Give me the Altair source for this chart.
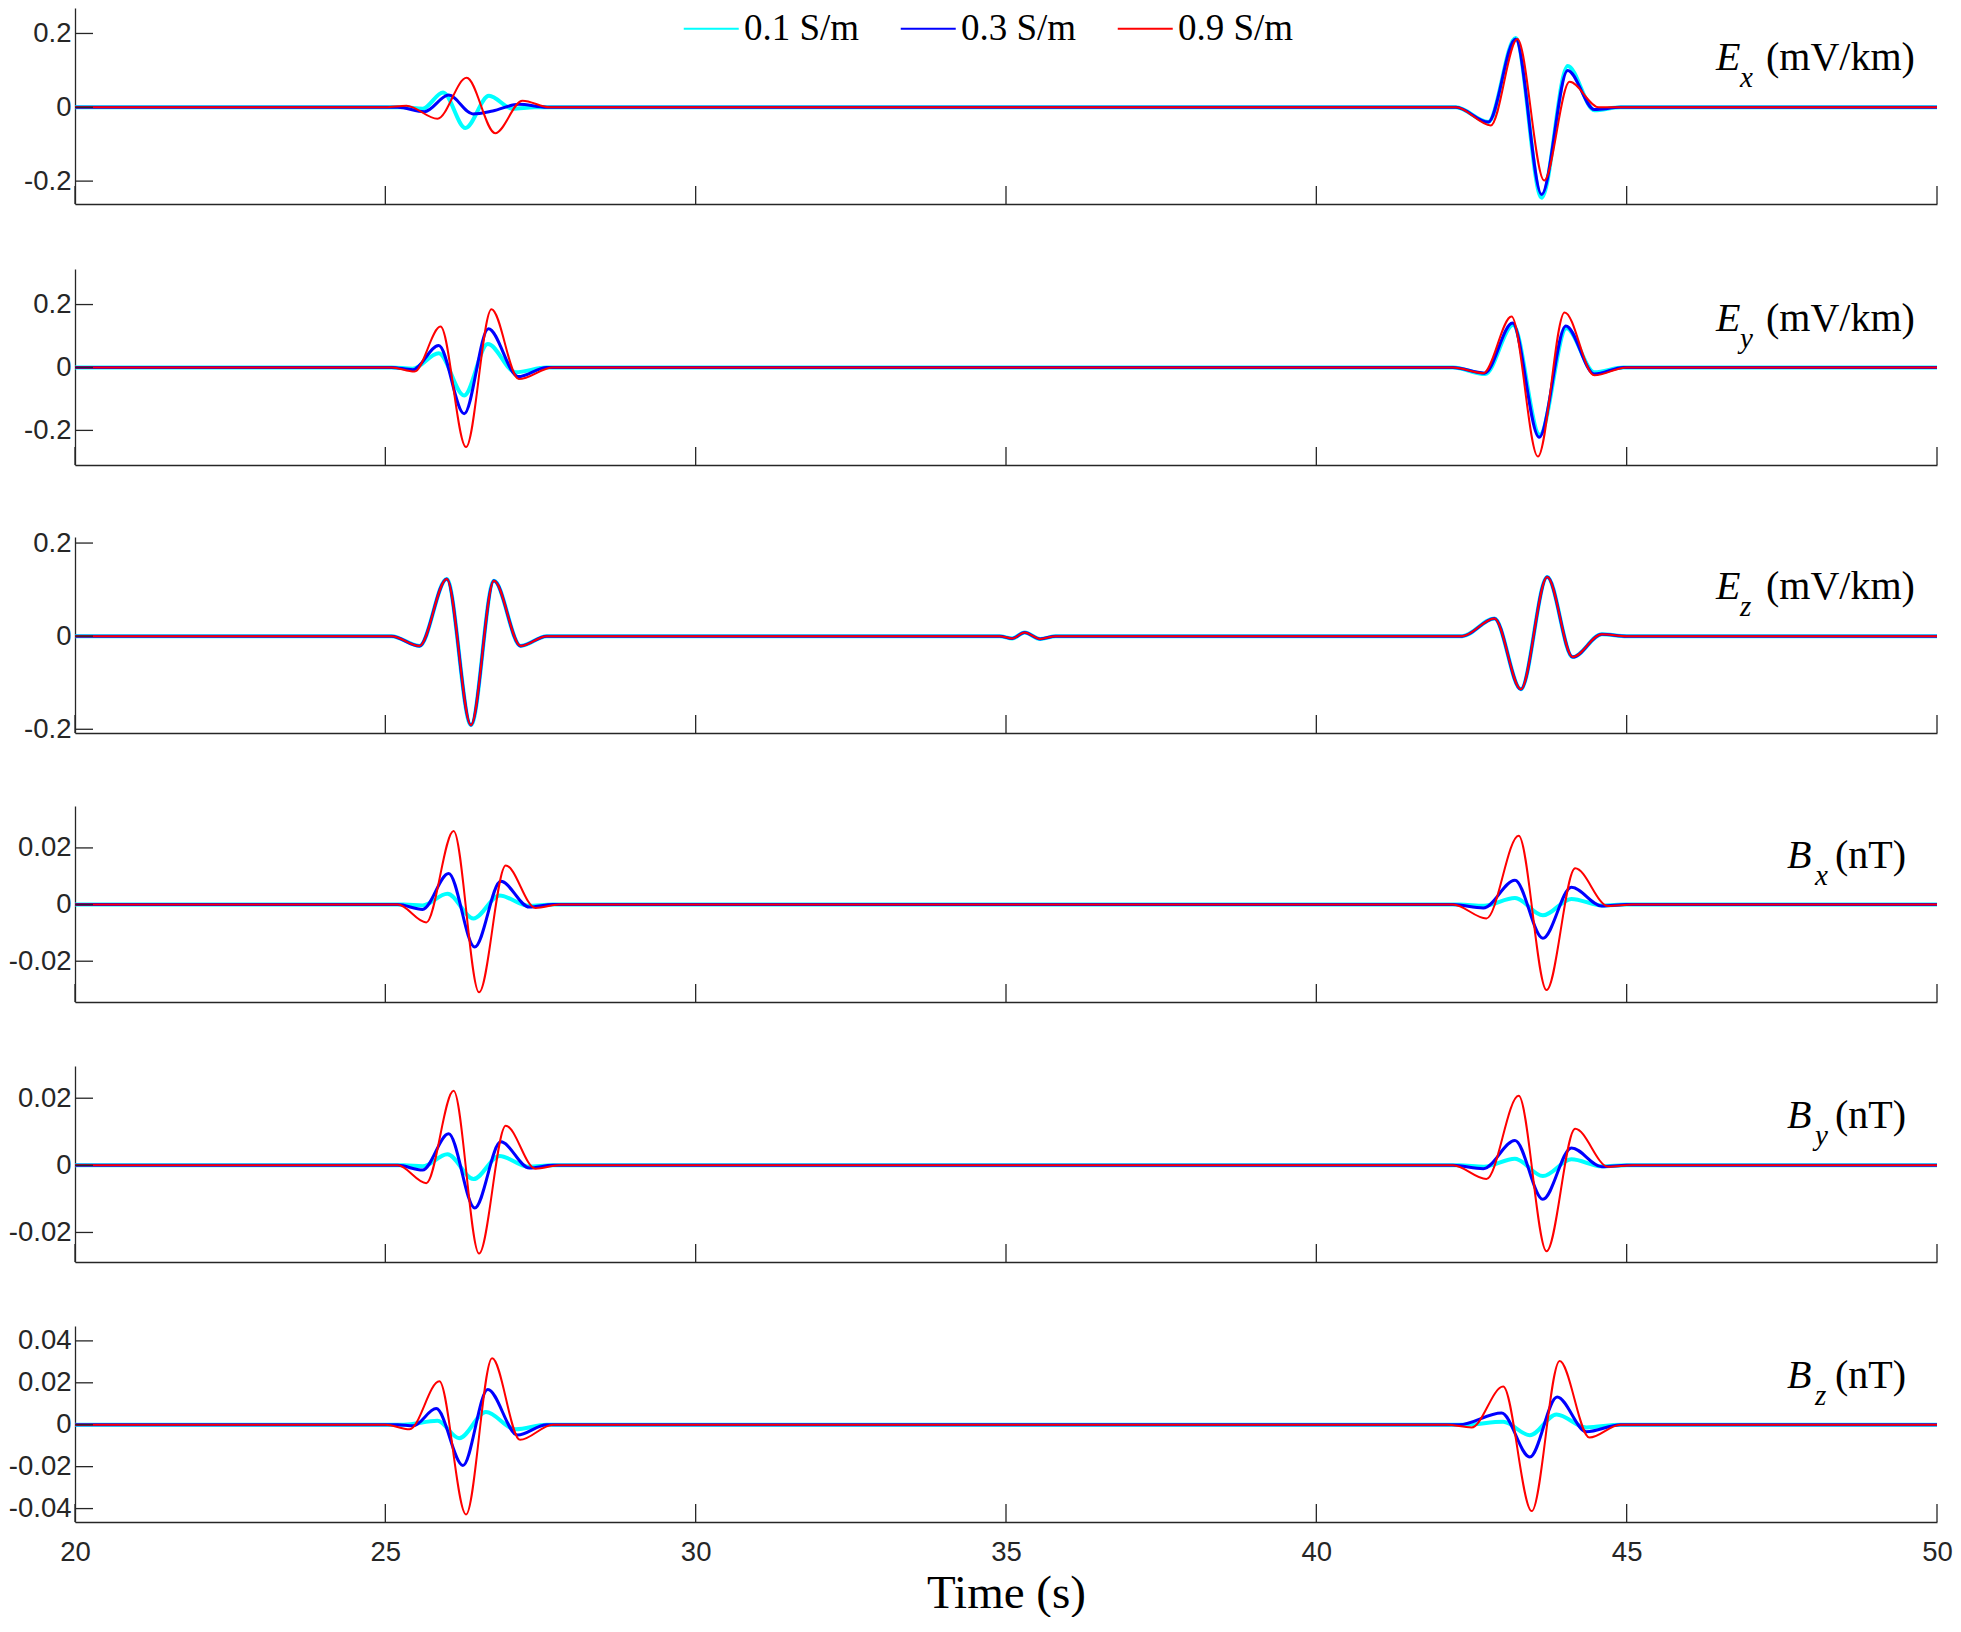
import altair as alt
import pandas as pd

SERIES = ["0.1 S/m", "0.3 S/m", "0.9 S/m"]
COLORS = ["#00FFFF", "#0000FF", "#FF0000"]
X_TICKS = [20, 25, 30, 35, 40, 45, 50]

# ---- Ex (mV/km) ----
EX_01 = [(20, 0), (25.3, 0), (25.6, -0.004), (25.93, 0.040), (26.29, -0.056), (26.67, 0.031), (27.05, -0.004), (27.4, 0),
         (42.25, 0), (42.77, -0.040), (43.21, 0.188), (43.63, -0.245), (44.05, 0.112), (44.48, -0.008), (44.9, 0), (50, 0)]
EX_03 = [(20, 0), (25.2, 0), (25.63, -0.012), (26.02, 0.033), (26.41, -0.018), (26.73, -0.010), (27.15, 0.008), (27.6, 0),
         (42.25, 0), (42.77, -0.040), (43.21, 0.185), (43.63, -0.236), (44.05, 0.100), (44.48, -0.006), (44.9, 0), (50, 0)]
EX_09 = [(20, 0), (25.0, 0), (25.34, 0.004), (25.84, -0.031), (26.31, 0.080), (26.77, -0.070), (27.21, 0.018), (27.65, 0),
         (42.25, 0), (42.81, -0.049), (43.24, 0.185), (43.67, -0.198), (44.08, 0.069), (44.55, 0), (50, 0)]

# ---- Ey (mV/km) ----
EY_01 = [(20, 0), (25.1, 0), (25.44, -0.004), (25.86, 0.045), (26.27, -0.089), (26.65, 0.075), (27.1, -0.015), (27.6, 0),
         (42.2, 0), (42.72, -0.021), (43.17, 0.135), (43.6, -0.214), (44.03, 0.125), (44.48, -0.015), (44.95, 0), (50, 0)]
EY_03 = [(20, 0), (25.1, 0), (25.44, -0.007), (25.86, 0.070), (26.27, -0.147), (26.66, 0.123), (27.14, -0.029), (27.6, 0),
         (42.2, 0), (42.71, -0.018), (43.16, 0.141), (43.59, -0.222), (44.02, 0.132), (44.48, -0.021), (44.95, 0), (50, 0)]
EY_09 = [(20, 0), (25.1, 0), (25.47, -0.013), (25.89, 0.130), (26.30, -0.253), (26.71, 0.185), (27.15, -0.037), (27.7, 0),
         (42.2, 0), (42.69, -0.018), (43.145, 0.162), (43.57, -0.283), (44.0, 0.175), (44.48, -0.025), (45.0, 0), (50, 0)]

# ---- Ez (mV/km) : the three conductivities coincide ----
EZ_ALL = [(20, 0), (25.1, 0), (25.55, -0.021), (25.99, 0.123), (26.38, -0.191), (26.75, 0.119), (27.18, -0.021), (27.6, 0),
          (34.9, 0), (35.1, -0.005), (35.3, 0.008), (35.55, -0.006), (35.8, 0),
          (42.35, 0), (42.87, 0.038), (43.295, -0.114), (43.72, 0.127), (44.13, -0.045), (44.6, 0.004), (45.0, 0), (50, 0)]

# ---- Bx (nT) ----
BX_01 = [(20, 0), (25.3, 0), (25.6, -0.0003), (26.0, 0.0038), (26.42, -0.0049), (26.84, 0.0032), (27.3, -0.0004), (27.7, 0),
         (42.3, 0), (42.7, -0.0004), (43.2, 0.0023), (43.65, -0.0038), (44.11, 0.0020), (44.6, -0.0003), (45.0, 0), (50, 0)]
BX_03 = [(20, 0), (25.2, 0), (25.6, -0.0017), (26.02, 0.0110), (26.44, -0.0150), (26.86, 0.0082), (27.32, -0.0009), (27.7, 0),
         (42.2, 0), (42.69, -0.0012), (43.2, 0.0086), (43.65, -0.0119), (44.11, 0.0061), (44.6, -0.0005), (45.0, 0), (50, 0)]
BX_09 = [(20, 0), (25.2, 0), (25.66, -0.0063), (26.10, 0.0260), (26.51, -0.0310), (26.94, 0.0138), (27.42, -0.0012), (27.8, 0),
         (42.2, 0), (42.74, -0.0049), (43.26, 0.0243), (43.71, -0.0302), (44.17, 0.0128), (44.7, -0.0005), (45.1, 0), (50, 0)]

# ---- By (nT) ----
BY_01 = [(20, 0), (25.3, 0), (25.6, -0.0003), (26.0, 0.0033), (26.42, -0.0041), (26.84, 0.0028), (27.3, -0.0004), (27.7, 0),
         (42.3, 0), (42.7, -0.0004), (43.2, 0.0020), (43.65, -0.0032), (44.11, 0.0018), (44.6, -0.0003), (45.0, 0), (50, 0)]
BY_03 = [(20, 0), (25.2, 0), (25.6, -0.0014), (26.02, 0.0094), (26.44, -0.0127), (26.86, 0.0070), (27.32, -0.0008), (27.7, 0),
         (42.2, 0), (42.69, -0.0010), (43.2, 0.0074), (43.65, -0.0101), (44.11, 0.0052), (44.6, -0.0004), (45.0, 0), (50, 0)]
BY_09 = [(20, 0), (25.2, 0), (25.66, -0.0053), (26.10, 0.0222), (26.51, -0.0263), (26.94, 0.0118), (27.42, -0.0010), (27.8, 0),
         (42.2, 0), (42.74, -0.0041), (43.26, 0.0207), (43.71, -0.0256), (44.17, 0.0109), (44.7, -0.0004), (45.1, 0), (50, 0)]

# ---- Bz (nT) ----
BZ_01 = [(20, 0), (25.3, 0), (25.84, 0.0019), (26.19, -0.0064), (26.62, 0.0061), (27.1, -0.0022), (27.6, 0),
         (42.4, 0), (43.01, 0.0014), (43.44, -0.0050), (43.87, 0.0049), (44.35, -0.0013), (44.9, 0), (50, 0)]
BZ_03 = [(20, 0), (25.2, 0), (25.45, -0.0005), (25.82, 0.0077), (26.25, -0.0194), (26.65, 0.0168), (27.13, -0.0049), (27.6, 0),
         (42.3, 0), (42.985, 0.0056), (43.44, -0.0154), (43.88, 0.0132), (44.35, -0.0033), (44.9, 0), (50, 0)]
BZ_09 = [(20, 0), (25.0, 0), (25.39, -0.0022), (25.87, 0.0207), (26.30, -0.0428), (26.72, 0.0317), (27.17, -0.0072), (27.7, 0),
         (42.1, 0), (42.5, -0.0013), (43.01, 0.0182), (43.47, -0.0412), (43.92, 0.0304), (44.4, -0.0061), (44.9, 0), (50, 0)]

PANEL_DATA = [
    [EX_01, EX_03, EX_09],
    [EY_01, EY_03, EY_09],
    [EZ_ALL, EZ_ALL, EZ_ALL],
    [BX_01, BX_03, BX_09],
    [BY_01, BY_03, BY_09],
    [BZ_01, BZ_03, BZ_09],
]
PANEL_LETTER = ["E", "E", "E", "B", "B", "B"]
PANEL_SUB = ["x", "y", "z", "x", "y", "z"]
PANEL_UNIT = ["(mV/km)", "(mV/km)", "(mV/km)", "(nT)", "(nT)", "(nT)"]
Y_DOMAINS = [[-0.262, 0.269], [-0.310, 0.313], [-0.208, 0.213],
             [-0.0344, 0.0348], [-0.0288, 0.0296], [-0.0464, 0.0471]]
Y_TICKS = [[-0.2, 0, 0.2], [-0.2, 0, 0.2], [-0.2, 0, 0.2],
           [-0.02, 0, 0.02], [-0.02, 0, 0.02], [-0.04, -0.02, 0, 0.02, 0.04]]

# ---- styling ----
W, H = 1862, 196
GAP = 63
LINE_W = [4.0, 3.0, 2.0]
AX = "#262626"
TICK_LEN = 18
SANS = "Liberation Sans"
SERIF = "Liberation Serif"
TICK_FONT = 27.5

cscale = alt.Scale(domain=SERIES, range=COLORS)
legend = alt.Legend(orient="none", legendX=604, legendY=2, direction="horizontal", title=None,
                    symbolType="M-1,0H3", symbolSize=756, symbolStrokeWidth=2,
                    labelFont=SERIF, labelFontSize=37, labelColor="black", labelOffset=28,
                    columnPadding=36, labelLimit=400, padding=0)


def make_panel(i):
    last = i == len(PANEL_DATA) - 1
    if last:
        xaxis = alt.Axis(values=X_TICKS, ticks=False, tickSize=0, labels=True, labelFont=SANS,
                         labelFontSize=TICK_FONT, labelColor=AX, labelPadding=16, labelFlush=False, grid=False,
                         domainColor=AX, domainWidth=1.3, title="Time (s)", titleFont=SERIF,
                         titleFontSize=47, titleFontWeight="normal", titleColor="black", titlePadding=5)
    else:
        xaxis = alt.Axis(values=X_TICKS, ticks=False, tickSize=0, labels=False, grid=False,
                         domainColor=AX, domainWidth=1.3, title=None)
    yaxis = alt.Axis(values=Y_TICKS[i], labelExpr="'' + datum.value", ticks=False, tickSize=0,
                     labelFont=SANS, labelFontSize=TICK_FONT, labelColor=AX, labelPadding=4, grid=False,
                     domainColor=AX, domainWidth=1.3, title=None)
    xs = alt.Scale(domain=[20, 50], nice=False, zero=False)
    ys = alt.Scale(domain=Y_DOMAINS[i], nice=False, zero=False)

    layers = []
    for s in range(3):
        pts = PANEL_DATA[i][s]
        df = pd.DataFrame({"t": [p[0] for p in pts], "v": [p[1] for p in pts], "series": SERIES[s]})
        layers.append(
            alt.Chart(df).mark_line(strokeWidth=LINE_W[s], interpolate="monotone").encode(
                x=alt.X("t:Q", scale=xs, axis=xaxis),
                y=alt.Y("v:Q", scale=ys, axis=yaxis),
                color=alt.Color("series:N", scale=cscale, legend=legend),
            )
        )
    xt = pd.DataFrame({"t": X_TICKS})
    layers.append(alt.Chart(xt).mark_rule(color=AX, strokeWidth=1.3).encode(
        x=alt.X("t:Q", scale=xs, axis=xaxis), y=alt.value(H), y2=alt.value(H - TICK_LEN)))
    yt = pd.DataFrame({"v": Y_TICKS[i]})
    layers.append(alt.Chart(yt).mark_rule(color=AX, strokeWidth=1.3).encode(
        y=alt.Y("v:Q", scale=ys, axis=yaxis), x=alt.value(0), x2=alt.value(TICK_LEN)))

    if PANEL_LETTER[i] == "E":
        xl, xs_, xu = W - 221, W - 197, W - 171
    else:
        xl, xs_, xu = W - 150, W - 122, W - 102
    base_y = 62
    layers.append(alt.Chart(pd.DataFrame({"lab": [PANEL_LETTER[i]]})).mark_text(
        font=SERIF, fontSize=40, fontStyle="italic", align="left", baseline="alphabetic", color="black").encode(
        text="lab:N", x=alt.value(xl), y=alt.value(base_y)))
    layers.append(alt.Chart(pd.DataFrame({"lab": [PANEL_SUB[i]]})).mark_text(
        font=SERIF, fontSize=29, fontStyle="italic", align="left", baseline="alphabetic", color="black").encode(
        text="lab:N", x=alt.value(xs_), y=alt.value(base_y + 17)))
    layers.append(alt.Chart(pd.DataFrame({"lab": [PANEL_UNIT[i]]})).mark_text(
        font=SERIF, fontSize=40, align="left", baseline="alphabetic", color="black").encode(
        text="lab:N", x=alt.value(xu), y=alt.value(base_y)))

    return alt.layer(*layers).properties(width=W, height=H)


chart = alt.vconcat(*[make_panel(i) for i in range(6)], spacing=GAP).properties(
    padding=0, background="white"
).configure_view(stroke=None, strokeWidth=0)

chart.save("out.html", embed_options={"renderer": "svg", "actions": False})
